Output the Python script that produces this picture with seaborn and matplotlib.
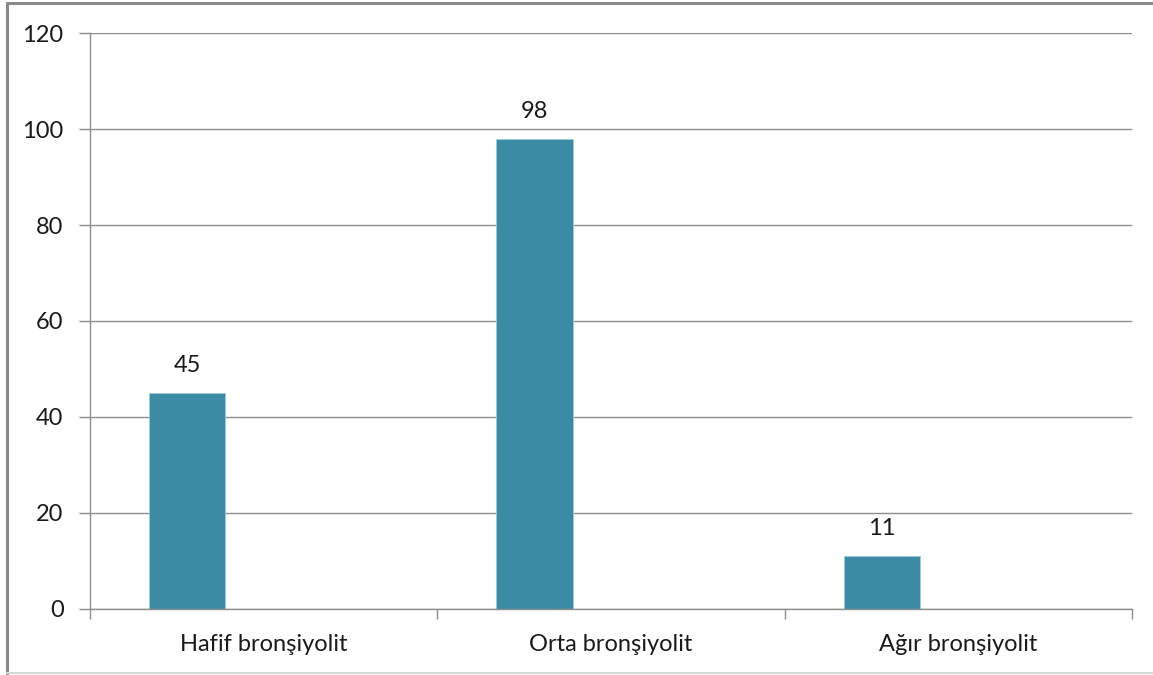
import matplotlib
matplotlib.use("Agg")
import matplotlib.pyplot as plt
from matplotlib.lines import Line2D
import seaborn as sns
import pandas as pd

categories = ["Hafif bronşiyolit", "Orta bronşiyolit", "Ağır bronşiyolit"]
counts = [45, 98, 11]
series_levels = ["Seri 1", "Seri 2", "Seri 3"]
y_ticks = [0, 20, 40, 60, 80, 100, 120]

sns.set_theme(style="white")
plt.rcParams["font.family"] = ["Lato", "DejaVu Sans"]

df = pd.DataFrame({"kategori": categories, "sayi": counts, "seri": series_levels[0]})

fig = plt.figure(figsize=(11.53, 6.75), dpi=100)
ax = fig.add_axes([0.078, 0.098, 0.9038, 0.853])

bar_color = "#3A8BA3"
sns.barplot(data=df, x="kategori", y="sayi", hue="seri", hue_order=series_levels,
            order=categories, palette=[bar_color] * 3, width=0.66, dodge=True,
            saturation=1, edgecolor="#9CCBD8", linewidth=0.6, legend=False, ax=ax)

ax.set_xlim(-0.5, len(categories) - 0.5)
ax.set_ylim(0, 120)
ax.set_yticks(y_ticks)
ax.set_yticklabels([str(t) for t in y_ticks])
ax.yaxis.grid(True, color="#8E8E8E", linewidth=1.0)
ax.set_axisbelow(True)

# category boundaries carry the tick marks, labels sit at slot centres
ax.set_xticks([i - 0.5 for i in range(len(categories) + 1)])
ax.set_xticklabels([])
ax.set_xticks(range(len(categories)), minor=True)
ax.set_xticklabels(categories, minor=True)
ax.tick_params(axis="x", which="major", direction="out", length=7, width=1,
               color="#8E8E8E", bottom=True)
ax.tick_params(axis="x", which="minor", length=0, pad=18, labelsize=17, labelcolor="#1a1a1a")
ax.tick_params(axis="y", direction="out", length=8, width=1, color="#8E8E8E",
               left=True, pad=11, labelsize=17, labelcolor="#1a1a1a")

ax.set_xlabel("")
ax.set_ylabel("")
for side in ["top", "right"]:
    ax.spines[side].set_visible(False)
for side in ["left", "bottom"]:
    ax.spines[side].set_color("#8E8E8E")
    ax.spines[side].set_linewidth(1.0)

for container in ax.containers:
    ax.bar_label(container, labels=[str(v) for v in counts] if len(container) else [],
                 padding=12, fontsize=17, color="#1a1a1a")

# frame around the chart area
fig.add_artist(Line2D([0.0062, 0.0062], [0.0, 0.996], transform=fig.transFigure,
                      color="#8a8a8a", linewidth=2.2))
fig.add_artist(Line2D([0.0062, 1.0], [0.996, 0.996], transform=fig.transFigure,
                      color="#8a8a8a", linewidth=2.2))
fig.add_artist(Line2D([0.0062, 1.0], [0.0025, 0.0025], transform=fig.transFigure,
                      color="#d8d8d8", linewidth=1.5))

fig.savefig("out.png", dpi=100)
